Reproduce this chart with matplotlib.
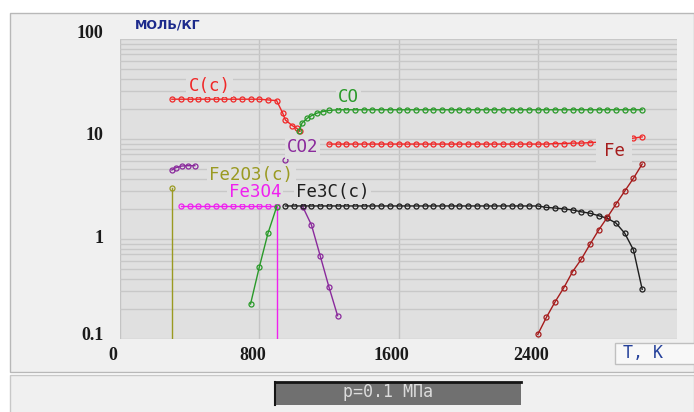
import numpy as np
import matplotlib
matplotlib.use("Agg")
import matplotlib.pyplot as plt
from matplotlib.patches import Rectangle
import matplotlib.transforms as mtrans

# ---------------- data ----------------
T_step = list(range(1300, 3001, 50))

T_Cc = [298, 350, 400, 450, 500, 550, 600, 650, 700, 750, 800, 850, 900, 935, 950, 990, 1015, 1035]
v_Cc = [25.0, 25.0, 25.0, 25.0, 25.0, 25.0, 25.0, 25.0, 25.0, 25.0, 25.0, 24.6, 24.2, 18.1, 15.5, 13.6, 12.8, 12.0]

T_CO_low = [750, 800, 850, 900]
v_CO_low = [0.224, 0.521, 1.14, 2.10]
T_CO_hi = [1030, 1045, 1075, 1100, 1130, 1165, 1200, 1250] + T_step
v_CO_hi = [12.0, 14.4, 16.1, 17.1, 18.1, 18.8, 19.3, 19.6] + [19.6] * len(T_step)

T_red2 = list(range(1200, 3001, 50))
v_red2 = [8.9] * 26 + [9.0, 9.0, 9.1, 9.1, 9.2, 9.3, 9.5, 9.7, 10.0, 10.2, 10.5]

T_CO2_low = [298, 320, 355, 390, 430]
v_CO2_low = [4.9, 5.16, 5.37, 5.41, 5.41]
T_CO2_pt = [950]
v_CO2_pt = [6.17]
T_purple = [1050, 1100, 1150, 1200, 1250]
v_purple = [2.10, 1.38, 0.681, 0.333, 0.171]

T_Fe2O3 = [298, 298]
v_Fe2O3 = [3.26, 0.001]

T_Fe3O4 = [350, 400, 450, 500, 550, 600, 650, 700, 750, 800, 850, 900, 900]
v_Fe3O4 = [2.14] * 12 + [0.001]

T_Fe3C = list(range(950, 3001, 50))
v_Fe3C = [2.14] * 30 + [2.07, 2.04, 2.00, 1.95, 1.87, 1.81, 1.71, 1.61, 1.44, 1.14, 0.776, 0.314]

T_Fe = list(range(2400, 3001, 50))
v_Fe = [0.111, 0.165, 0.236, 0.326, 0.471, 0.627, 0.885, 1.23, 1.65, 2.24, 3.02, 4.05, 5.62]

x_ticks = [0, 800, 1600, 2400]
x_ticklabels = ["0", "800", "1600", "2400"]
y_ticks = [0.1, 1, 10, 100]
y_ticklabels = ["0.1", "1", "10", "100"]

# ---------------- figure ----------------
W, H = 694, 412
fig = plt.figure(figsize=(W / 100, H / 100), dpi=100)
fig.patch.set_facecolor("white")

def fx(x):
    return x / W

def fy(y):
    return 1 - y / H

# background panels (pixel coordinate axes)
bg = fig.add_axes([0, 0, 1, 1], zorder=-5)
bg.set_xlim(0, W)
bg.set_ylim(H, 0)
bg.axis("off")
bg.add_patch(Rectangle((10, 13), W - 10, 359, facecolor="#f0f0f0", edgecolor="#b8b8b8", lw=1))
bg.add_patch(Rectangle((10, 375), W - 10, 40, facecolor="#f0f0f0", edgecolor="#c8c8c8", lw=1))
# pressure bar
bg.add_patch(Rectangle((275, 381.5), 246, 23.5, facecolor="#707070", edgecolor="none"))
bg.plot([275, 521], [382, 382], color="#151515", lw=2)
bg.plot([275.5, 275.5], [381.5, 405], color="#151515", lw=1.5)
bg.text(343, 392, "p=0.1 МПа", color="#dcdcdc", fontsize=12, family="DejaVu Sans Mono",
        va="center", ha="left")
# T, K box
bg.add_patch(Rectangle((615, 343), 80, 21, facecolor="#f8f8f8", edgecolor="#c0c0c0", lw=1))
bg.text(623, 353.5, "T, K", color="#24409a", fontsize=12, family="DejaVu Sans Mono",
        va="center", ha="left")
# units
bg.text(135, 24.5, "МОЛЬ/КГ", color="#1c2a8c", fontsize=9, family="DejaVu Sans",
        weight="bold", va="center", ha="left")

# main axes
L, R, Tp, B = 120, 677, 39, 339
ax = fig.add_axes([fx(L), fy(B), (R - L) / W, (B - Tp) / H])
plot_bg = "#e0e0e0"
ax.set_facecolor(plot_bg)
ax.set_yscale("log")
ax.set_xlim(0, 3200)
ax.set_ylim(0.1, 100)
for s in ax.spines.values():
    s.set_visible(False)

ax.set_xticks(x_ticks)
ax.set_xticklabels(x_ticklabels)
ax.set_yticks(y_ticks)
ax.set_yticklabels(y_ticklabels)
ax.yaxis.set_minor_locator(matplotlib.ticker.LogLocator(base=10, subs=np.arange(2, 10)))
ax.yaxis.set_minor_formatter(matplotlib.ticker.NullFormatter())
ax.tick_params(which="both", length=0)
ax.tick_params(axis="x", pad=6)
ax.tick_params(axis="y", pad=12)
ax.grid(which="both", axis="y", color="#c8c8c8", lw=1)
ax.grid(which="major", axis="x", color="#c4c4c4", lw=1)
ax.set_axisbelow(True)

for lab in ax.get_xticklabels():
    lab.set_fontfamily("Liberation Serif")
    lab.set_fontsize(13)
    lab.set_fontweight("bold")
    lab.set_color("#1a1a1a")
    lab.set_transform(lab.get_transform() + mtrans.ScaledTranslation(-7 / 100, 0, fig.dpi_scale_trans))
y_off = [5, 2.5, 6, 7]
for lab, off in zip(ax.get_yticklabels(), y_off):
    lab.set_fontfamily("Liberation Serif")
    lab.set_fontsize(13)
    lab.set_fontweight("bold")
    lab.set_color("#1a1a1a")
    lab.set_transform(lab.get_transform() + mtrans.ScaledTranslation(0, off / 100, fig.dpi_scale_trans))

mk = dict(marker="o", markersize=3.6, markerfacecolor="none", markeredgewidth=0.9, lw=1.0)

c_red = "#f02828"
c_green = "#2a9a2a"
c_purple = "#8a2a9c"
c_mag = "#f020f0"
c_olive = "#9a9a22"
c_black = "#1e1e1e"
c_fe = "#a51c1c"

ax.plot(T_Fe2O3, v_Fe2O3, color=c_olive, **mk)
ax.plot(T_Fe3O4, v_Fe3O4, color=c_mag, **mk)
ax.plot(T_Cc, v_Cc, color=c_red, **mk)
ax.plot(T_CO_low, v_CO_low, color=c_green, **mk)
ax.plot(T_CO_hi, v_CO_hi, color=c_green, **mk)
ax.plot(T_red2, v_red2, color=c_red, **mk)
ax.plot(T_CO2_low, v_CO2_low, color=c_purple, **mk)
ax.plot(T_CO2_pt, v_CO2_pt, color=c_purple, **mk)
ax.plot(T_purple, v_purple, color=c_purple, **mk)
ax.plot(T_Fe3C, v_Fe3C, color=c_black, **mk)
ax.plot(T_Fe, v_Fe, color=c_fe, **mk)

# series labels with background boxes (pixel positions)
labels = [
    ("C(c)", 209.5, 86, c_red),
    ("CO", 348.5, 96.5, c_green),
    ("CO2", 302.5, 147.5, c_purple),
    ("Fe2O3(c)", 251.5, 175.5, c_olive),
    ("Fe3O4", 255, 192.5, c_mag),
    ("Fe3C(c)", 332.5, 192.5, c_black),
    ("Fe", 614, 151, c_fe),
]
for txt, x, y, col in labels:
    pad = 0.45 if txt == "Fe" else 0.12
    fig.text(fx(x), fy(y), txt, color=col, fontsize=12.5, family="DejaVu Sans Mono",
             ha="center", va="center", zorder=5,
             bbox=dict(facecolor=plot_bg, edgecolor="none", pad=pad * 12.5, boxstyle="square,pad=%g" % pad))

fig.savefig("out.png", dpi=100)
